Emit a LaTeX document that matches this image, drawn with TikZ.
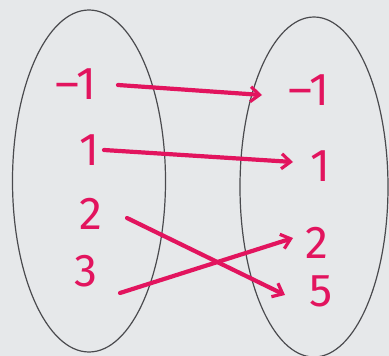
\documentclass[tikz,border=0pt]{standalone}
\usepackage{fontspec}
\setmainfont{Fira Sans}
\usetikzlibrary{arrows.meta,calc,shapes.geometric}
\definecolor{ink}{HTML}{E2145E}
\definecolor{paper}{HTML}{E6E8EA}
\definecolor{rim}{HTML}{4A4A4E}
\begin{document}
\begin{tikzpicture}[x=1pt,y=-1pt,
  setring/.style={draw=rim,line width=1.2pt,ellipse,inner sep=0pt},
  num/.style={text=ink,font=\fontsize{46}{46}\selectfont,inner sep=0pt,anchor=center},
  arr/.style={draw=ink,line width=4.2pt,line cap=round,-{Straight Barb[length=9pt,width=15pt,line width=3.2pt]}}]
\fill[paper] (0,0) rectangle (389,356);
\useasboundingbox (0,0) rectangle (389,356);
\node[setring,minimum width=153pt,minimum height=342pt] (L) at (89,181) {};
\node[setring,minimum width=148pt,minimum height=340pt] (R) at (314,187) {};
\node[num] (a1) at (76,84) {–1};
\node[num] (a2) at (89,150) {1};
\node[num] (a3) at (91,214) {2};
\node[num] (a4) at (86,271) {3};
\node[num] (b1) at (309,90) {–1};
\node[num] (b2) at (320,166) {1};
\node[num] (b3) at (317,243) {2};
\node[num] (b4) at (321,291) {5};
\draw[arr] ($(a1)+(42,1)$) -- ($(b1)+(-47,5)$);
\draw[arr] ($(a2)+(15,0)$) -- ($(b2)+(-27,-4)$);
\draw[arr] ($(a3)+(36,4)$) -- ($(b4)+(-36,4)$);
\draw[arr] ($(a4)+(34,22)$) -- ($(b3)+(-24,-5)$);
\end{tikzpicture}
\end{document}
